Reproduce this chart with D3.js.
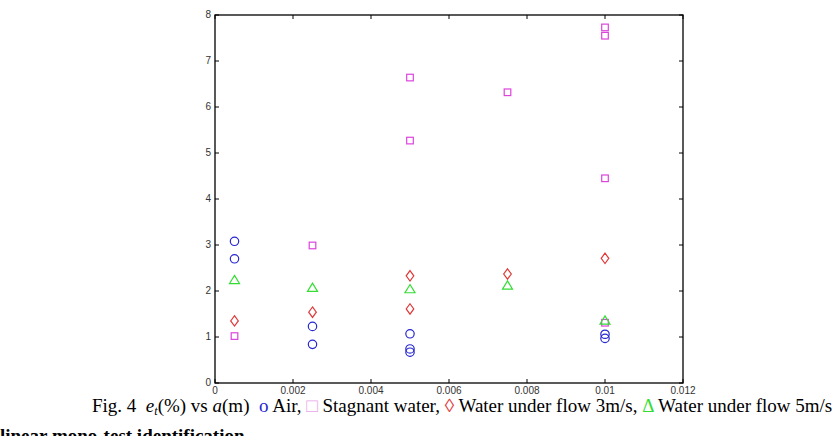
<!DOCTYPE html>
<html>
<head>
<meta charset="utf-8">
<script src="https://cdn.jsdelivr.net/npm/d3@7"></script>
<style>
  html, body { margin: 0; padding: 0; background: #fff; overflow: hidden; }
  svg { display: block; }
  .tick-label { font-family: "Liberation Sans", Arial, sans-serif; font-size: 10px; fill: #333; }
  .caption { font-family: "Liberation Serif", "Times New Roman", serif; font-size: 19px; fill: #000; }
</style>
</head>
<body>
<svg id="chart"></svg>
<script>
// data: a (m) vs e_t (%)
const airX = [0.0005, 0.0005, 0.0025, 0.0025, 0.005, 0.005, 0.005, 0.01, 0.01];
const airY = [3.08, 2.70, 1.23, 0.84, 1.07, 0.74, 0.67, 1.06, 0.97];

const stagnantX = [0.0005, 0.0025, 0.005, 0.005, 0.0075, 0.01, 0.01, 0.01, 0.01];
const stagnantY = [1.02, 2.99, 6.64, 5.27, 6.32, 7.73, 7.55, 4.45, 1.31];

const flow3X = [0.0005, 0.0025, 0.005, 0.005, 0.0075, 0.01];
const flow3Y = [1.35, 1.54, 2.33, 1.61, 2.37, 2.71];

const flow5X = [0.0005, 0.0025, 0.005, 0.0075, 0.01];
const flow5Y = [2.24, 2.07, 2.04, 2.12, 1.36];

const xTicks = [0, 0.002, 0.004, 0.006, 0.008, 0.01, 0.012];
const xTickLabels = ["0", "0.002", "0.004", "0.006", "0.008", "0.01", "0.012"];
const yTicks = [0, 1, 2, 3, 4, 5, 6, 7, 8];

const W = 834, H = 436;
let svg = d3.select("#chart").attr("width", W).attr("height", H);

let plot = { left: 215, right: 683, top: 15, bottom: 383 };

let x = d3.scaleLinear().domain([0, 0.012]).range([plot.left, plot.right]);
let y = d3.scaleLinear().domain([0, 8]).range([plot.bottom, plot.top]);

// inward ticks on all four sides
let tickLen = 4;
let axisG = svg.append("g").attr("stroke", "#000").attr("stroke-width", 1);

xTicks.forEach(function(t) {
    axisG.append("line")
        .attr("x1", x(t)).attr("x2", x(t))
        .attr("y1", plot.bottom).attr("y2", plot.bottom - tickLen);
    axisG.append("line")
        .attr("x1", x(t)).attr("x2", x(t))
        .attr("y1", plot.top).attr("y2", plot.top + tickLen);
});
yTicks.forEach(function(t) {
    axisG.append("line")
        .attr("x1", plot.left).attr("x2", plot.left + tickLen)
        .attr("y1", y(t)).attr("y2", y(t));
    axisG.append("line")
        .attr("x1", plot.right).attr("x2", plot.right - tickLen)
        .attr("y1", y(t)).attr("y2", y(t));
});

svg.append("rect")
    .attr("x", plot.left).attr("y", plot.top)
    .attr("width", plot.right - plot.left)
    .attr("height", plot.bottom - plot.top)
    .attr("fill", "none")
    .attr("stroke", "#000")
    .attr("stroke-width", 1.3);

// tick labels
svg.selectAll(".xlab")
    .data(xTicks)
    .enter().append("text")
    .attr("class", "tick-label")
    .attr("x", d => x(d))
    .attr("y", plot.bottom + 11)
    .attr("text-anchor", "middle")
    .text((d, i) => xTickLabels[i]);

svg.selectAll(".ylab")
    .data(yTicks)
    .enter().append("text")
    .attr("class", "tick-label")
    .attr("x", plot.left - 4)
    .attr("y", d => y(d) + 3)
    .attr("text-anchor", "end")
    .text(d => d);

// markers
function zip(xs, ys) {
    return xs.map((v, i) => ({ x: v, y: ys[i] }));
}

let marks = svg.append("g").attr("fill", "none").attr("stroke-width", 1.2);

marks.selectAll(".air")
    .data(zip(airX, airY))
    .enter().append("circle")
    .attr("cx", d => x(d.x))
    .attr("cy", d => y(d.y))
    .attr("r", 4.2)
    .attr("stroke", "#2626d0");

marks.selectAll(".stag")
    .data(zip(stagnantX, stagnantY))
    .enter().append("rect")
    .attr("x", d => x(d.x) - 3.3)
    .attr("y", d => y(d.y) - 3.3)
    .attr("width", 6.6)
    .attr("height", 6.6)
    .attr("stroke", "#dd44dd");

marks.selectAll(".f3")
    .data(zip(flow3X, flow3Y))
    .enter().append("path")
    .attr("transform", d => "translate(" + x(d.x) + "," + y(d.y) + ")")
    .attr("d", "M0,-5.2L3.8,0L0,5.2L-3.8,0Z")
    .attr("stroke", "#e03a3a");

marks.selectAll(".f5")
    .data(zip(flow5X, flow5Y))
    .enter().append("path")
    .attr("transform", d => "translate(" + x(d.x) + "," + y(d.y) + ")")
    .attr("d", "M0,-4.6L5,3.6L-5,3.6Z")
    .attr("stroke", "#33dd33");

// caption (runs off the right edge, as in the source figure)
let cap = svg.append("text")
    .attr("class", "caption")
    .attr("x", 92)
    .attr("y", 412)
    .attr("xml:space", "preserve");
cap.append("tspan").text("Fig. 4  ");
cap.append("tspan").attr("font-style", "italic").text("e");
cap.append("tspan").attr("font-style", "italic").attr("font-size", "12px").attr("dy", 3).text("t");
cap.append("tspan").attr("dy", -3).text("(%) vs ");
cap.append("tspan").attr("font-style", "italic").text("a");
cap.append("tspan").text("(m)  ");
cap.append("tspan").attr("fill", "#2626d0").text("o");
cap.append("tspan").text(" Air, ");
cap.append("tspan").attr("fill", "#e8a8e8").text("\u25A1");
cap.append("tspan").text(" Stagnant water, ");
cap.append("tspan").attr("fill", "#e03a3a").text("\u25CA");
cap.append("tspan").text(" Water under flow 3m/s, ");
cap.append("tspan").attr("fill", "#33dd33").text("\u0394");
cap.append("tspan").text(" Water under flow 5m/s");

svg.append("text")
    .attr("class", "caption")
    .attr("x", 0)
    .attr("y", 442)
    .attr("font-weight", "bold")
    .text("linear mono-test identification");
</script>
</body>
</html>
